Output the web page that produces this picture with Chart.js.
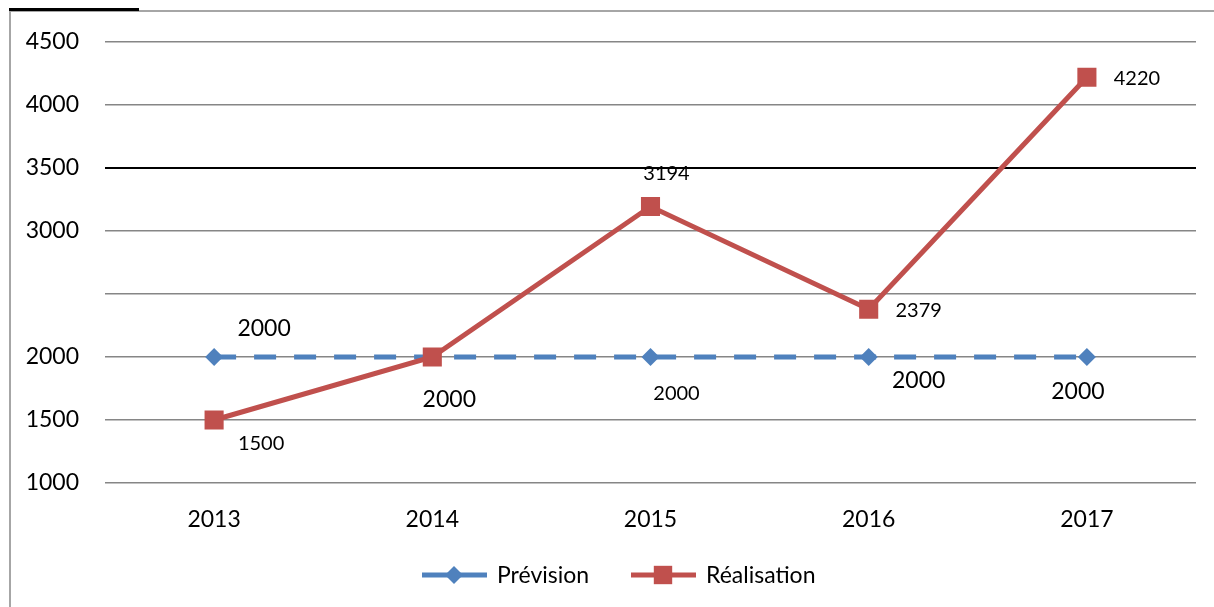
<!DOCTYPE html>
<html>
<head>
<meta charset="utf-8">
<script src="https://cdn.jsdelivr.net/npm/chart.js@4.4.0/dist/chart.umd.min.js"></script>
<style>
  html, body { margin: 0; padding: 0; background: #fff; }
  #wrap { position: relative; width: 1214px; height: 607px; overflow: hidden; }
  #c { position: absolute; left: 0; top: 0; }
  .frameL { position: absolute; left: 9px; top: 10px; width: 2px; height: 600px; background: #a6a6a6; }
  .frameT { position: absolute; left: 9px; top: 10px; width: 1205px; height: 2px; background: #a6a6a6; }
  .frameK { position: absolute; left: 9px; top: 8px; width: 130px; height: 3px; background: #000; }
</style>
</head>
<body>
<div id="wrap">
  <canvas id="c" width="1214" height="607"></canvas>
  <div class="frameL"></div>
  <div class="frameT"></div>
  <div class="frameK"></div>
</div>
<script>
const categories = ['2013', '2014', '2015', '2016', '2017'];
const prevision = [2000, 2000, 2000, 2000, 2000];
const realisation = [1500, 2000, 3194, 2379, 4220];
const yTicks = [1000, 1500, 2000, 2500, 3000, 3500, 4000, 4500];
const hiddenTickLabels = [2500];
const seriesNames = ['Prévision', 'Réalisation'];

const FONT = 'Lato, "Open Sans", sans-serif';
const BLUE = '#4F81BD';
const RED = '#C0504D';

// label placement per point: [dx, dy, fontSize] or null
const labelPlacement = [
  [[50, -28, 23], [17, 43, 23], [26, 37, 20], [50, 24, 23], [-9, 35, 23]],
  [[47, 24, 20], null, [16, -33, 20], [50, 1, 20], [50, 1, 20]]
];

const dataLabels = {
  id: 'dataLabels',
  afterDatasetsDraw(chart) {
    const ctx = chart.ctx;
    ctx.save();
    ctx.fillStyle = '#000';
    ctx.textAlign = 'center';
    ctx.textBaseline = 'middle';
    chart.data.datasets.forEach((ds, di) => {
      const meta = chart.getDatasetMeta(di);
      meta.data.forEach((pt, i) => {
        const pl = labelPlacement[di][i];
        if (!pl) return;
        ctx.font = pl[2] + 'px ' + FONT;
        ctx.fillText(String(ds.data[i]), pt.x + pl[0], pt.y + pl[1]);
      });
    });
    ctx.restore();
  }
};

const legendPlugin = {
  id: 'customLegend',
  afterDraw(chart) {
    const ctx = chart.ctx;
    ctx.save();
    const y = 575;
    ctx.font = '23px ' + FONT;
    ctx.textBaseline = 'middle';
    ctx.textAlign = 'left';
    const items = [
      { x: 422, color: BLUE, style: 'rectRot', r: 9, text: seriesNames[0] },
      { x: 631, color: RED, style: 'rect', r: 13, text: seriesNames[1] }
    ];
    items.forEach(it => {
      ctx.strokeStyle = it.color;
      ctx.lineWidth = 5;
      ctx.beginPath();
      ctx.moveTo(it.x, y);
      ctx.lineTo(it.x + 65, y);
      ctx.stroke();
      ctx.fillStyle = it.color;
      Chart.helpers.drawPoint(ctx, { pointStyle: it.style, radius: it.r, rotation: 0, borderWidth: 0 }, it.x + 32, y);
      ctx.fillStyle = '#000';
      ctx.fillText(it.text, it.x + 75, y + 1);
    });
    ctx.restore();
  }
};

new Chart(document.getElementById('c'), {
  type: 'line',
  data: {
    labels: categories,
    datasets: [
      {
        label: seriesNames[0],
        data: prevision,
        order: 2,
        borderColor: BLUE,
        backgroundColor: BLUE,
        borderWidth: 5,
        borderDash: [22, 18],
        pointStyle: 'rectRot',
        pointRadius: 9,
        pointBorderWidth: 0,
        pointBackgroundColor: BLUE,
        tension: 0
      },
      {
        label: seriesNames[1],
        data: realisation,
        order: 1,
        borderColor: RED,
        backgroundColor: RED,
        borderWidth: 5,
        pointStyle: 'rect',
        pointRadius: 13.5,
        pointBorderWidth: 0,
        pointBackgroundColor: RED,
        tension: 0
      }
    ]
  },
  options: {
    responsive: false,
    animation: false,
    devicePixelRatio: 1,
    layout: { padding: { top: 42, right: 18, bottom: 0, left: 0 } },
    plugins: { legend: { display: false }, tooltip: { enabled: false } },
    scales: {
      x: {
        offset: true,
        grid: { display: false, drawTicks: false },
        border: { display: false },
        ticks: { color: '#000', font: { family: FONT, size: 23 }, padding: 23 },
        afterFit(s) { s.height = 124; }
      },
      y: {
        min: 1000,
        max: 4500,
        afterBuildTicks(s) { s.ticks = yTicks.map(v => ({ value: v })); },
        grid: {
          color: ctx => (ctx.tick && ctx.tick.value === 3500) ? '#000' : '#868686',
          lineWidth: ctx => (ctx.tick && ctx.tick.value === 3500) ? 2 : 1.5,
          drawTicks: false
        },
        border: { display: false },
        ticks: {
          color: '#000',
          font: { family: FONT, size: 23 },
          padding: 26,
          callback: v => hiddenTickLabels.includes(v) ? '' : String(v)
        },
        afterFit(s) { s.width = 105; }
      }
    }
  },
  plugins: [dataLabels, legendPlugin]
});
</script>
</body>
</html>
